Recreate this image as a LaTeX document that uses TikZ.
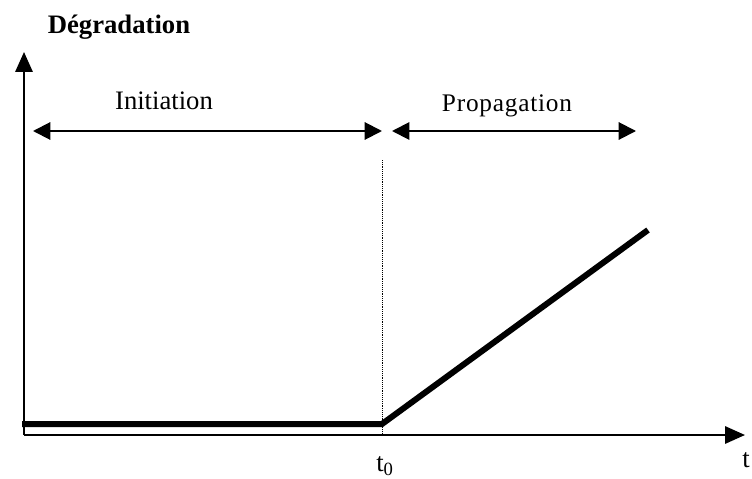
\documentclass[tikz,border=0pt]{standalone}
\usepackage{fontspec}
\setmainfont{Liberation Serif}
\usetikzlibrary{arrows.meta}

\begin{document}
\begin{tikzpicture}[x=0.75pt,y=-0.75pt,
	axis/.style={line width=1.6pt, -{Triangle[length=15pt,width=13pt]}},
	span/.style={line width=1.5pt, {Triangle[length=13pt,width=13pt]}-{Triangle[length=13pt,width=13pt]}},
	curve/.style={line width=4.5pt},
	lbl/.style={inner sep=0pt, font=\fontsize{20}{22}\selectfont}]
	\useasboundingbox (0,0) rectangle (752,478);
	% axes
	\coordinate (O) at (24,435);
	\coordinate (Ytop) at (24,52);
	\coordinate (Xend) at (745,435);
	\draw[axis] (O) -- (Ytop);
	\draw[axis] (O) -- (Xend);
	\node[lbl, font=\bfseries\fontsize{20}{22}\selectfont] (Deg) at (119,27) {Dégradation};
	\node[lbl] (t) at (746,460) {t};
	% degradation law
	\coordinate (A) at (22,424);
	\coordinate (T0) at (382,424);
	\coordinate (B) at (648,230);
	\draw[curve] (A) -- (T0) -- (B);
	\coordinate (T0top) at (382,160);
	\coordinate (T0bot) at (382,436);
	\draw[densely dotted, line width=0.4pt] (T0top) -- (T0bot);
	\node[lbl] (t0) at (385,466) {t\textsubscript{0}};
	% phases
	\coordinate (I1) at (33,131);
	\coordinate (I2) at (382,131);
	\coordinate (P1) at (392,131);
	\coordinate (P2) at (636,131);
	\draw[span] (I1) -- (I2);
	\draw[span] (P1) -- (P2);
	\node[lbl] (Init) at (164,101) {Initiation};
	\node[lbl, font=\fontsize{19}{21}\selectfont\addfontfeature{LetterSpace=3}] (Prop) at (507,106) {Propagation};
\end{tikzpicture}
\end{document}
